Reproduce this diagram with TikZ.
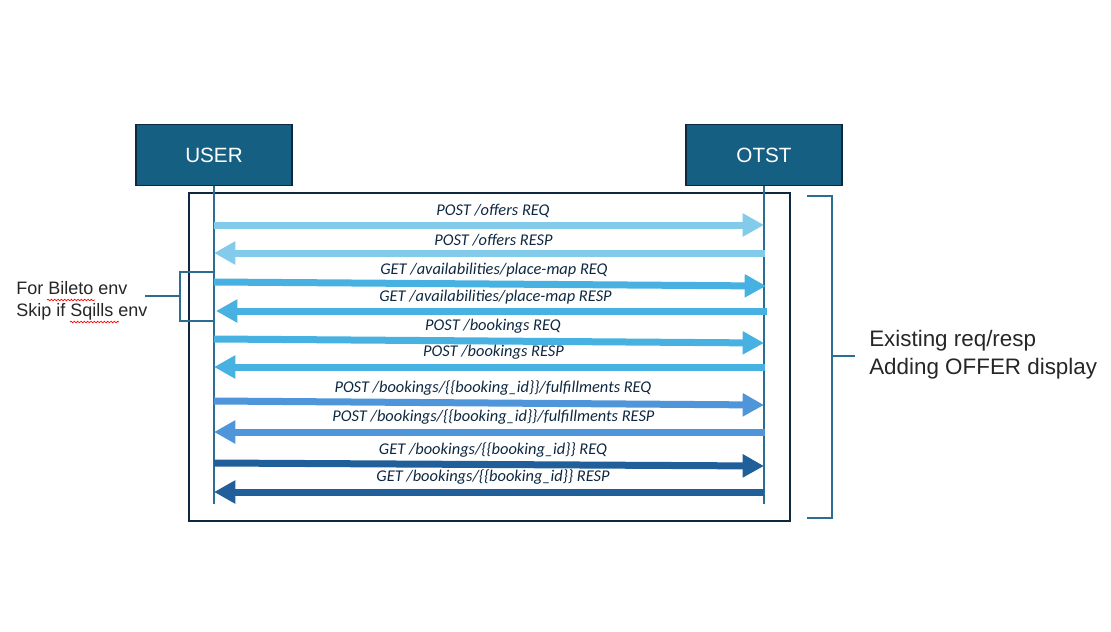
\documentclass[tikz,border=0pt]{standalone}
\usepackage{fontspec}
\setmainfont{Liberation Sans}
\newfontfamily\lblfont{Carlito}
\usetikzlibrary{arrows.meta,decorations.pathmorphing}
\definecolor{boxblue}{HTML}{156082}
\definecolor{navy}{HTML}{0E2841}
\definecolor{lifeblue}{HTML}{2C6E91}
\definecolor{msgA}{HTML}{83CBEB}
\definecolor{msgB}{HTML}{47B1E1}
\definecolor{msgC}{HTML}{4E95D9}
\definecolor{msgD}{HTML}{215F9A}
\begin{document}
\begin{tikzpicture}[x=0.75pt,y=-0.75pt,
    actor/.style={draw=navy,line width=1.2pt,fill=boxblue,text=white,minimum width=117pt,minimum height=46pt,font=\fontsize{15.5}{18}\selectfont},
    life/.style={lifeblue,line width=1.2pt},
    msg/.style={line width=5.25pt,-{Triangle[length=16pt,width=16.5pt]}},
    lbl/.style={midway,above=-0.5pt,xshift=3pt,text=navy,font=\lblfont\itshape\fontsize{12.3}{14}\selectfont},
    brk/.style={lifeblue,line width=1.2pt},
    spell/.style={red,line width=0.5pt,decorate,decoration={snake,amplitude=0.6pt,segment length=2.5pt}}]
    \useasboundingbox (0,0) rectangle (1111,632);
    % frame
    \draw[navy,line width=1.5pt] (189,193) rectangle (790,521);
    % actors and lifelines
    \node[actor] (user) at (214,155) {USER};
    \node[actor] (otst) at (764,155) {OTST};
    \coordinate (uEnd) at (214,504);
    \coordinate (oEnd) at (764,504);
    \draw[life] (user.south) -- (uEnd);
    \draw[life] (otst.south) -- (oEnd);
    % messages
    \coordinate (u1) at (214,225); \coordinate (o1) at (764,225);
    \coordinate (u2) at (214,253); \coordinate (o2) at (765,253);
    \coordinate (u3) at (214,282); \coordinate (o3) at (766,286);
    \coordinate (u4) at (216,311); \coordinate (o4) at (767,311);
    \coordinate (u5) at (214,339); \coordinate (o5) at (764,343);
    \coordinate (u6) at (214,367); \coordinate (o6) at (765,367);
    \coordinate (u7) at (214,401); \coordinate (o7) at (764,405);
    \coordinate (u8) at (214,432); \coordinate (o8) at (765,432);
    \coordinate (u9) at (214,463); \coordinate (o9) at (764,466);
    \coordinate (u10) at (214,492); \coordinate (o10) at (764,492);
    \draw[msg,msgA] (u1) -- (o1) node[lbl] {POST /offers REQ};
    \draw[msg,msgA] (o2) -- (u2) node[lbl] {POST /offers RESP};
    \draw[msg,msgB] (u3) -- (o3) node[lbl] {GET /availabilities/place-map REQ};
    \draw[msg,msgB] (o4) -- (u4) node[lbl] {GET /availabilities/place-map RESP};
    \draw[msg,msgB] (u5) -- (o5) node[lbl] {POST /bookings REQ};
    \draw[msg,msgB] (o6) -- (u6) node[lbl] {POST /bookings RESP};
    \draw[msg,msgC] (u7) -- (o7) node[lbl] {POST /bookings/\{\{booking\_id\}\}/fulfillments REQ};
    \draw[msg,msgC] (o8) -- (u8) node[lbl] {POST /bookings/\{\{booking\_id\}\}/fulfillments RESP};
    \draw[msg,msgD] (u9) -- (o9) node[lbl] {GET /bookings/\{\{booking\_id\}\} REQ};
    \draw[msg,msgD] (o10) -- (u10) node[lbl] {GET /bookings/\{\{booking\_id\}\} RESP};
    % left note
    \node[anchor=west,inner sep=0pt,align=left,text=black!85,font=\fontsize{13.5}{16.5}\selectfont] (envnote) at (16,301) {For Bileto env\\Skip if Sqills env};
    \draw[spell] (47,300) -- (95,300);
    \draw[spell] (70,322) -- (119,322);
    \draw[brk] (213,272) -- (180,272) -- (180,321) -- (213,321);
    \draw[brk] (180,296) -- (145,296);
    % right note
    \draw[brk] (807,196) -- (832,196) -- (832,518) -- (807,518);
    \draw[brk] (832,356) -- (855,356);
    \node[anchor=west,inner sep=0pt,align=left,text=black!85,font=\fontsize{16.8}{21}\selectfont] (offernote) at (869,355) {Existing req/resp\\Adding OFFER display};
\end{tikzpicture}
\end{document}
